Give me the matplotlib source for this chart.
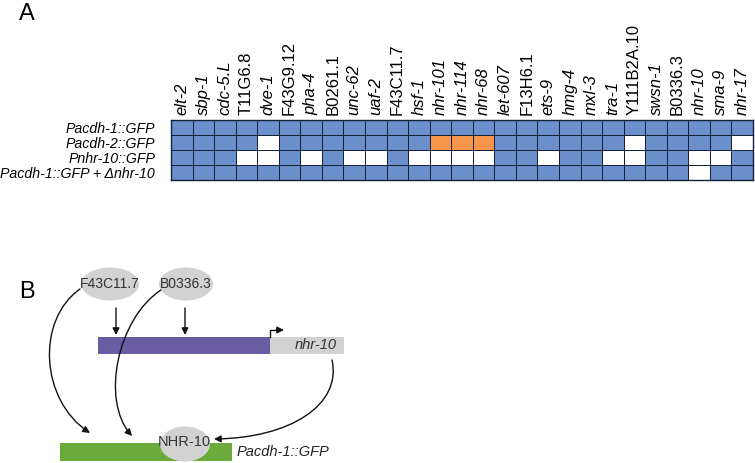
import matplotlib.pyplot as plt
import numpy as np
from matplotlib.colors import ListedColormap
from matplotlib.patches import Ellipse, Rectangle, FancyArrowPatch
from matplotlib.path import Path

plt.rcParams["font.family"] = ["Liberation Sans", "DejaVu Sans"]

# Panel A data
genes = ["elt-2", "sbp-1", "cdc-5.L", "T11G6.8", "dve-1", "F43G9.12", "pha-4",
         "B0261.1", "unc-62", "uaf-2", "F43C11.7", "hsf-1", "nhr-101", "nhr-114",
         "nhr-68", "let-607", "F13H6.1", "ets-9", "hmg-4", "mxl-3", "tra-1",
         "Y111B2A.10", "swsn-1", "B0336.3", "nhr-10", "sma-9", "nhr-17"]
upright = {"T11G6.8", "F43G9.12", "B0261.1", "F43C11.7", "F13H6.1",
           "Y111B2A.10", "B0336.3"}
reporters = ["Pacdh-1::GFP", "Pacdh-2::GFP", "Pnhr-10::GFP",
             "Pacdh-1::GFP + \u0394nhr-10"]
# 0 = white, 1 = blue, 2 = orange
pacdh1 = [1] * 27
pacdh2 = [1, 1, 1, 1, 0, 1, 1, 1, 1, 1, 1, 1, 2, 2, 2, 1, 1, 1, 1, 1, 1, 0, 1, 1, 1, 1, 0]
pnhr10 = [1, 1, 1, 0, 0, 1, 0, 1, 0, 0, 1, 0, 0, 0, 0, 1, 1, 0, 1, 1, 0, 0, 1, 1, 0, 0, 1]
pacdh1_dnhr10 = [1] * 24 + [0, 1, 1]

grid = np.array([pacdh1, pacdh2, pnhr10, pacdh1_dnhr10])

W, H = 755, 463
fig = plt.figure(figsize=(W / 100, H / 100), dpi=100)

# heatmap
ax = fig.add_axes([171 / W, 1 - 180 / H, 582 / W, 60 / H])
cmap = ListedColormap(["#ffffff", "#6b8fca", "#f7954a"])
ax.pcolormesh(grid, cmap=cmap, vmin=-0.5, vmax=2.5,
              edgecolors="#14213a", linewidth=0.7)
ax.set_xlim(0, len(genes))
ax.set_ylim(len(reporters), 0)
ax.xaxis.tick_top()
ax.set_xticks(np.arange(len(genes)) + 0.5)
ax.set_xticklabels(genes, rotation=90, fontsize=12)
for lab, g in zip(ax.get_xticklabels(), genes):
    lab.set_style("normal" if g in upright else "italic")
ax.set_yticks(np.arange(len(reporters)) + 0.5)
ax.set_yticklabels(reporters, fontsize=10.2, style="italic")
ax.tick_params(axis="x", length=0, pad=3.5)
ax.tick_params(axis="y", length=0, pad=11.5)
for s in ax.spines.values():
    s.set_linewidth(1.0)
    s.set_color("#14213a")

# full-figure overlay for labels and panel B
bx = fig.add_axes([0, 0, 1, 1])
bx.set_xlim(0, W)
bx.set_ylim(H, 0)
bx.axis("off")

bx.text(19, 14, "A", fontsize=17, va="center", ha="left")
bx.text(19, 292, "B", fontsize=17, va="center", ha="left")

gray = "#d2d2d2"
# bars
bx.add_patch(Rectangle((98, 337), 172, 17, color="#6a5ca2", lw=0))
bx.add_patch(Rectangle((270, 337), 74, 17, color=gray, lw=0))
bx.add_patch(Rectangle((60, 443), 172, 18, color="#6aab3c", lw=0))
bx.text(337, 345, "nhr-10", style="italic", fontsize=10.5, ha="right", va="center",
        color="#333333")
bx.text(237, 452, "Pacdh-1::GFP", style="italic", fontsize=10.5, ha="left",
        va="center", color="#222222")

# ellipses
bx.add_patch(Ellipse((110, 284), 58, 33, color=gray, lw=0))
bx.add_patch(Ellipse((186, 284), 54, 33, color=gray, lw=0))
bx.add_patch(Ellipse((185, 444), 50, 35, color=gray, lw=0))
bx.text(110, 284, "F43C11.7", fontsize=10, ha="center", va="center", color="#333333")
bx.text(186, 284, "B0336.3", fontsize=10, ha="center", va="center", color="#333333")
bx.text(184, 442, "NHR-10", fontsize=10.5, ha="center", va="center", color="#333333")

arrow_kw = dict(arrowstyle="-|>", mutation_scale=10, lw=1.0, color="#111111",
                shrinkA=0, shrinkB=0)
# straight down arrows
for x in (116, 185):
    bx.add_patch(FancyArrowPatch((x, 308), (x, 335), **arrow_kw))
# promoter arrow
bx.plot([270, 270, 278], [337, 330, 330], color="#111111", lw=1.0)
bx.add_patch(FancyArrowPatch((276, 330), (284, 330), **arrow_kw))

# curved arrows
curves = [
    [(80, 289), (36, 320), (40, 400), (90, 433)],
    [(161, 290), (118, 318), (100, 400), (132, 436)],
    [(332, 360), (342, 405), (290, 438), (214, 439)],
]
codes = [Path.MOVETO, Path.CURVE4, Path.CURVE4, Path.CURVE4]
for pts in curves:
    bx.add_patch(FancyArrowPatch(path=Path(pts, codes), **arrow_kw))

fig.savefig("out.png", dpi=100)
